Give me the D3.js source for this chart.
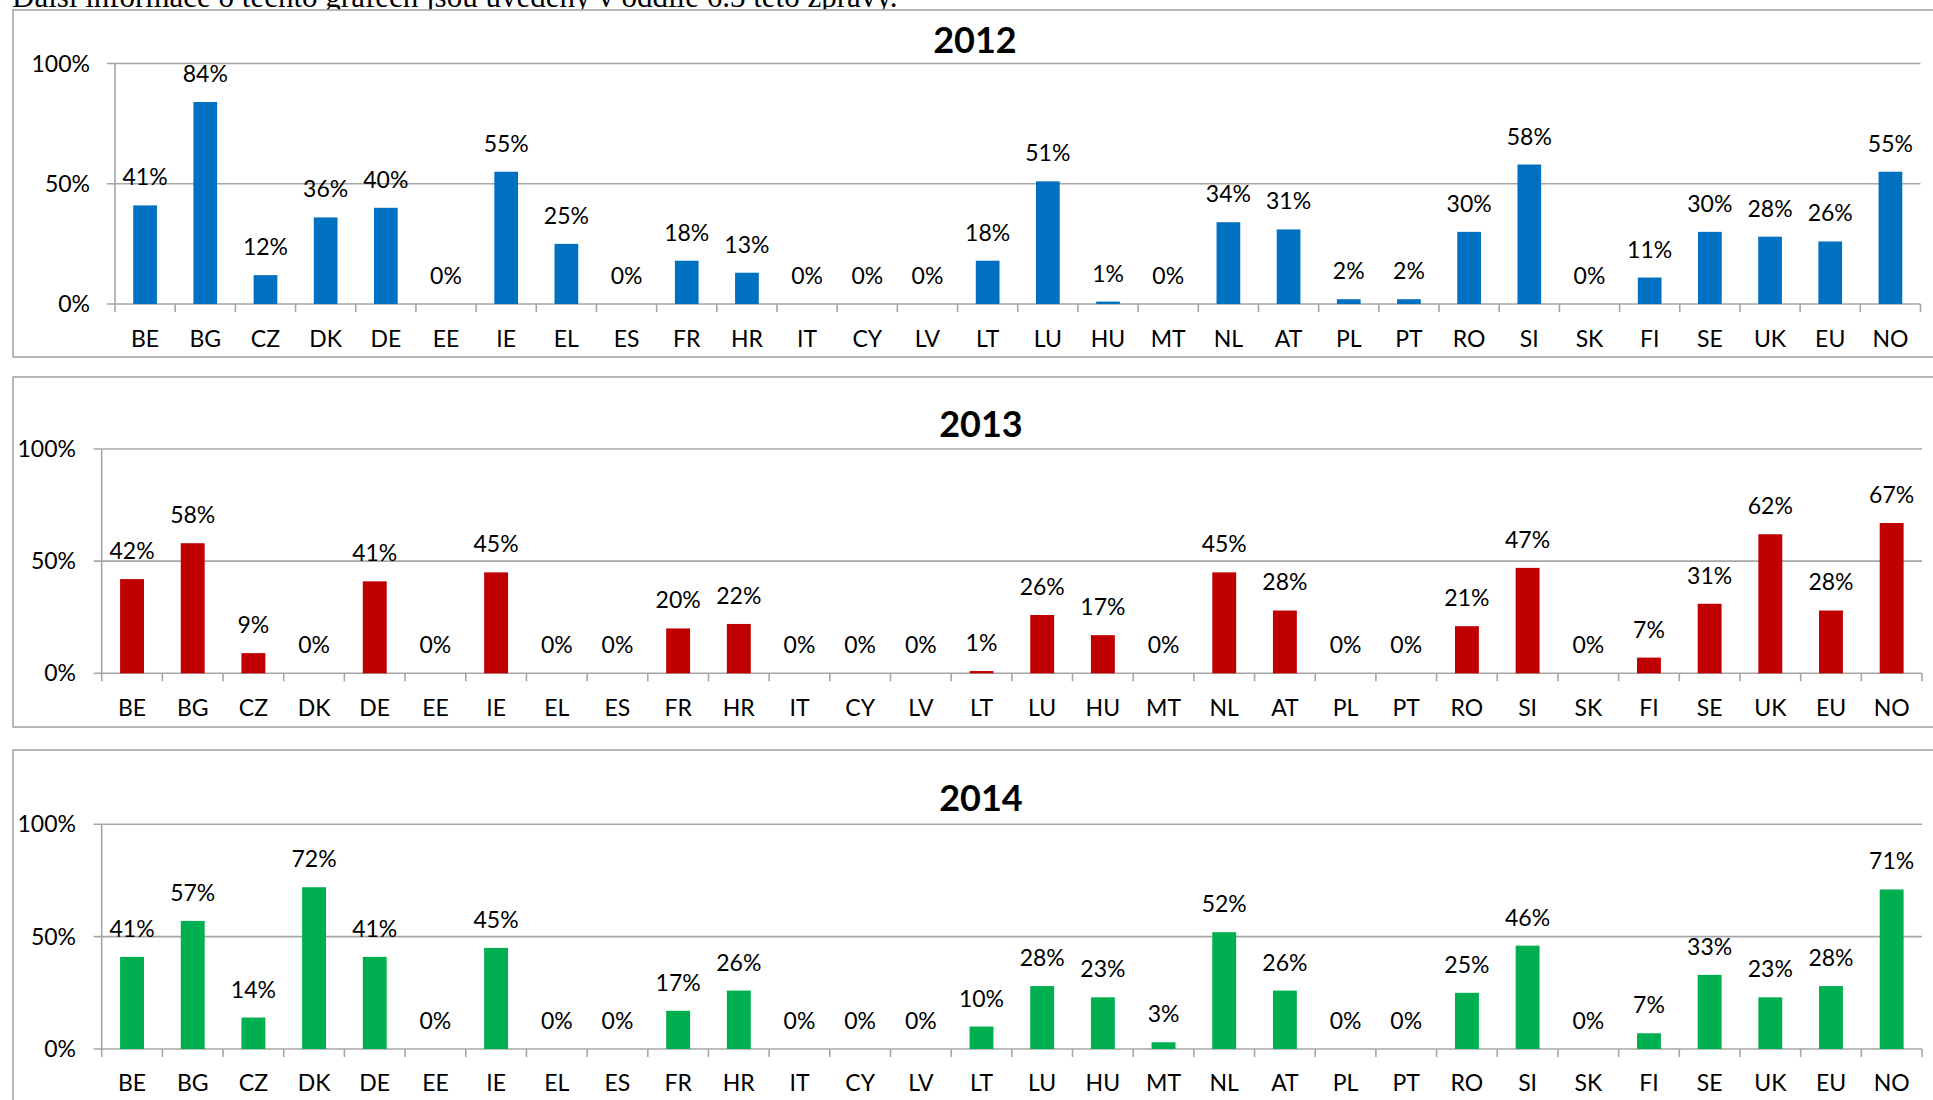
<!DOCTYPE html>
<html>
<head>
<meta charset="utf-8">
<script src="https://cdn.jsdelivr.net/npm/d3@7"></script>
<style>
  html, body { margin: 0; padding: 0; background: #fff; }
  svg { display: block; }
</style>
</head>
<body>
<svg id="chart" width="1933" height="1100"></svg>
<script>
const categories = ["BE","BG","CZ","DK","DE","EE","IE","EL","ES","FR","HR","IT","CY","LV","LT","LU","HU","MT","NL","AT","PL","PT","RO","SI","SK","FI","SE","UK","EU","NO"];
const values2012 = [41,84,12,36,40,0,55,25,0,18,13,0,0,0,18,51,1,0,34,31,2,2,30,58,0,11,30,28,26,55];
const values2013 = [42,58,9,0,41,0,45,0,0,20,22,0,0,0,1,26,17,0,45,28,0,0,21,47,0,7,31,62,28,67];
const values2014 = [41,57,14,72,41,0,45,0,0,17,26,0,0,0,10,28,23,3,52,26,0,0,25,46,0,7,33,23,28,71];
const yTicks = [0, 50, 100];
const yTickLabels = ["0%", "50%", "100%"];
const titles = ["2012", "2013", "2014"];
const colors = ["#0070C0", "#C00000", "#00B050"];
const noteText = "Další informace o těchto grafech jsou uvedeny v oddíle 6.3 této zprávy.";

const svg = d3.select("#chart");
const FONT = "Lato, 'Open Sans', sans-serif";
const GRID = "#a6a6a6";

svg.append("text")
  .attr("x", 12).attr("y", 7)
  .attr("font-family", "'Liberation Serif', 'Times New Roman', serif")
  .attr("font-size", 31).attr("fill", "#000")
  .text(noteText);

const panels = [
  { data: values2012, box: [13, 10, 2000, 347], plot: { x0: 115, x1: 1920.5, y0: 304, y100: 63.5 }, titleX: 975, titleY: 53, labelY: 346.5, yLabelX: 90 },
  { data: values2013, box: [13, 377, 2000, 350], plot: { x0: 101.7, x1: 1922, y0: 673.3, y100: 449 }, titleX: 981, titleY: 436.5, labelY: 716, yLabelX: 76 },
  { data: values2014, box: [13, 750, 2000, 400], plot: { x0: 101.7, x1: 1922, y0: 1049, y100: 824.3 }, titleX: 981, titleY: 811, labelY: 1090.5, yLabelX: 76 }
];

panels.forEach((p, i) => {
  const g = svg.append("g");
  g.append("rect")
    .attr("x", p.box[0]).attr("y", p.box[1])
    .attr("width", p.box[2]).attr("height", p.box[3])
    .attr("fill", "#fff").attr("stroke", GRID).attr("stroke-width", 1.6);

  const x = d3.scaleBand().domain(categories).range([p.plot.x0, p.plot.x1]).padding(0);
  const y = d3.scaleLinear().domain([0, 100]).range([p.plot.y0, p.plot.y100]);
  const bw = x.bandwidth() * 0.394;

  g.append("text")
    .attr("x", p.titleX).attr("y", p.titleY)
    .attr("text-anchor", "middle")
    .attr("font-family", FONT).attr("font-weight", "bold")
    .attr("font-size", 36).attr("fill", "#000")
    .text(titles[i]);

  g.selectAll(".grid").data(yTicks).enter().append("line")
    .attr("x1", p.plot.x0 - 8).attr("x2", p.plot.x1)
    .attr("y1", d => y(d)).attr("y2", d => y(d))
    .attr("stroke", GRID).attr("stroke-width", 1.6);

  g.append("line")
    .attr("x1", p.plot.x0).attr("x2", p.plot.x0)
    .attr("y1", y(100)).attr("y2", y(0))
    .attr("stroke", GRID).attr("stroke-width", 1.6);

  g.selectAll(".ylab").data(yTicks).enter().append("text")
    .attr("x", p.yLabelX).attr("y", d => y(d) + 8)
    .attr("text-anchor", "end")
    .attr("font-family", FONT).attr("font-size", 23).attr("fill", "#000")
    .text((d, k) => yTickLabels[k]);

  const tickPos = categories.map(c => x(c)).concat([p.plot.x1]);
  g.selectAll(".xtick").data(tickPos).enter().append("line")
    .attr("x1", d => d).attr("x2", d => d)
    .attr("y1", y(0)).attr("y2", y(0) + 8)
    .attr("stroke", GRID).attr("stroke-width", 1.6);

  g.selectAll(".bar").data(p.data).enter().append("rect")
    .attr("x", (d, k) => x(categories[k]) + (x.bandwidth() - bw) / 2)
    .attr("width", bw)
    .attr("y", d => y(d))
    .attr("height", d => y(0) - y(d))
    .attr("fill", colors[i]);

  g.selectAll(".vlab").data(p.data).enter().append("text")
    .attr("x", (d, k) => x(categories[k]) + x.bandwidth() / 2)
    .attr("y", d => y(d) - 20)
    .attr("text-anchor", "middle")
    .attr("font-family", FONT).attr("font-size", 23).attr("fill", "#000")
    .text(d => d + "%");

  g.selectAll(".xlab").data(categories).enter().append("text")
    .attr("x", c => x(c) + x.bandwidth() / 2)
    .attr("y", p.labelY)
    .attr("text-anchor", "middle")
    .attr("font-family", FONT).attr("font-size", 23).attr("fill", "#000")
    .text(c => c);
});
</script>
</body>
</html>
